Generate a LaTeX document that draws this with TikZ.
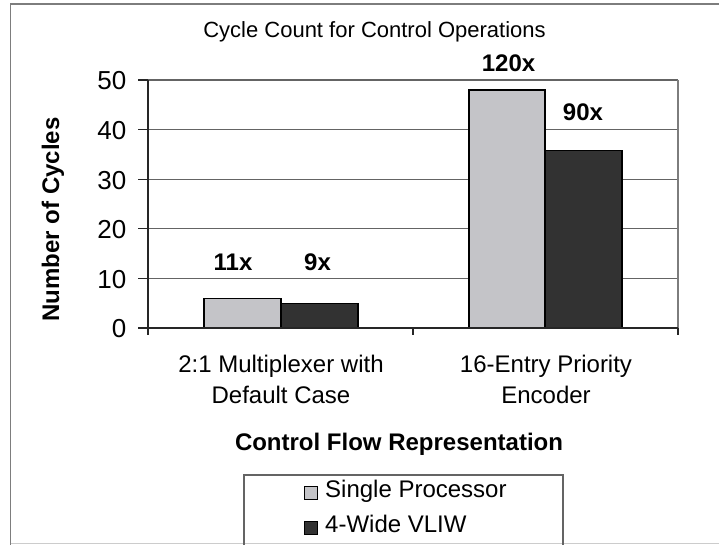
\documentclass[tikz,border=0pt]{standalone}
\usepackage{fontspec}
\setmainfont{Liberation Sans}
\definecolor{lightbar}{RGB}{196,196,200}
\definecolor{darkbar}{RGB}{50,50,50}
\definecolor{gridgray}{RGB}{100,100,100}
\definecolor{framegray}{RGB}{125,125,125}
\tikzset{
  lbl/.style={inner sep=0pt, font=\fontsize{24}{28}\selectfont},
  ticklbl/.style={inner sep=0pt, font=\fontsize{26}{30}\selectfont},
  boldlbl/.style={inner sep=0pt, font=\fontsize{24}{28}\selectfont\bfseries},
  titlelbl/.style={inner sep=0pt, font=\fontsize{22}{26}\selectfont},
  gridline/.style={draw=gridgray, line width=1.2pt},
  axisline/.style={draw=black!85, line width=1.2pt},
  barA/.style={fill=lightbar, draw=black, line width=1.4pt},
  barB/.style={fill=darkbar, draw=black, line width=1.4pt},
  keybox/.style={line width=1pt}
}
\begin{document}
\begin{tikzpicture}[x=1pt, y=-1pt]
\useasboundingbox (0,0) rectangle (719,544);
\fill[white] (0,0) rectangle (719,544);

% outer chart frame
\draw[framegray, line width=1.5pt] (10.5,560) -- (10.5,4) -- (740,4);
\draw[black!20, line width=1pt] (10.5,543.5) -- (740,543.5);

% title
\node[titlelbl, anchor=base] (title) at (374.5,37) {Cycle Count for Control Operations};

% horizontal grid lines and plot border
\foreach \v in {10,20,30,40,50}
  \draw[gridline] (148,{328-4.96*\v}) -- (678,{328-4.96*\v});
\draw[framegray, line width=1.2pt] (678,80) -- (678,328);

% bars
\draw[barA] (204,328) rectangle (281,{328-4.96*6});
\draw[barB] (281,328) rectangle (358,{328-4.96*5});
\draw[barA] (469,328) rectangle (545,{328-4.96*48});
\draw[barB] (545,328) rectangle (622,{328-4.96*35.8});

% axes and tick marks
\draw[axisline] (148,80) -- (148,335);
\draw[axisline] (148,328) -- (678,328);
\foreach \v in {0,10,20,30,40,50}
  \draw[axisline] (138,{328-4.96*\v}) -- (148,{328-4.96*\v});
\foreach \x in {413,678}
  \draw[axisline] (\x,328) -- (\x,335);

% value axis labels
\foreach \v in {0,10,20,30,40,50}
  \node[ticklbl, anchor=base east] (ytick\v) at (126.5,{328-4.96*\v+9.8}) {\v};
\node[boldlbl, rotate=90, anchor=center] (ytitle) at (53,219.5) {Number of Cycles};

% bar value labels
\node[boldlbl, anchor=base] (lblA1) at (233,270.6) {11x};
\node[boldlbl, anchor=base] (lblB1) at (317.5,270.6) {9x};
\node[boldlbl, anchor=base] (lblA2) at (508.5,71.6) {120x};
\node[boldlbl, anchor=base] (lblB2) at (583,120.6) {90x};

% category labels
\node[lbl, anchor=base] (cat1a) at (281,372) {2:1 Multiplexer with};
\node[lbl, anchor=base] (cat1b) at (281,403) {Default Case};
\node[lbl, anchor=base] (cat2a) at (546,372) {16-Entry Priority};
\node[lbl, anchor=base] (cat2b) at (546,403) {Encoder};
\node[boldlbl, anchor=base] (xtitle) at (399,450) {Control Flow Representation};

% legend
\draw[gridgray, line width=1.2pt] (244,560) -- (244,475) -- (563,475) -- (563,560);
\draw[keybox, fill=lightbar] (304,486) rectangle (317,499);
\draw[keybox, fill=darkbar] (304,521) rectangle (317,534);
\node[lbl, anchor=base west] (keyA) at (325,497) {Single Processor};
\node[lbl, anchor=base west] (keyB) at (325,532) {4-Wide VLIW};
\end{tikzpicture}
\end{document}
